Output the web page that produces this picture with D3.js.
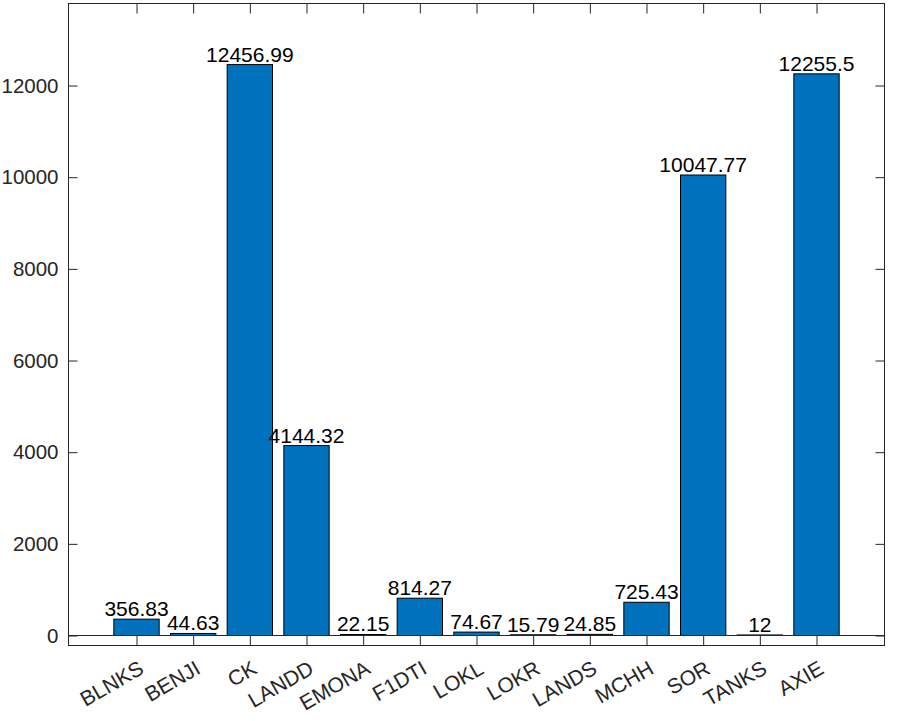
<!DOCTYPE html>
<html><head><meta charset="utf-8">
<script src="https://cdn.jsdelivr.net/npm/d3@7"></script>
<style>body{margin:0;background:#fff}svg{display:block}text{font-family:"Liberation Sans",Arial,sans-serif}</style>
</head><body><svg id="c" width="897" height="721"></svg>
<script>
const categories = ["BLNKS","BENJI","CK","LANDD","EMONA","F1DTI","LOKL","LOKR","LANDS","MCHH","SOR","TANKS","AXIE"];
const values = [356.83,44.63,12456.99,4144.32,22.15,814.27,74.67,15.79,24.85,725.43,10047.77,12,12255.5];
const valueLabels = ["356.83","44.63","12456.99","4144.32","22.15","814.27","74.67","15.79","24.85","725.43","10047.77","12","12255.5"];
const yTicks = [0,2000,4000,6000,8000,10000,12000];

(function(){
const svg = d3.select("#c");
const L=68.5, R=884.5, T=3.5, B=645.5;
const x = d3.scaleLinear().domain([-0.2,14.2]).range([L,R]);
const y = d3.scaleLinear().domain([-218,13790]).range([B,T]);
const axisColor="#262626";
const bw = 0.8;

svg.append("g").selectAll("rect").data(values).join("rect")
  .attr("x",(d,i)=>x(i+1-bw/2)).attr("width",(d,i)=>x(i+1+bw/2)-x(i+1-bw/2))
  .attr("y",d=>y(d)).attr("height",d=>y(0)-y(d))
  .attr("fill","#0072BD").attr("stroke","#000").attr("stroke-width",1);

svg.append("line").attr("x1",L).attr("x2",R).attr("y1",y(0)).attr("y2",y(0))
  .attr("stroke",axisColor).attr("stroke-width",1);

svg.append("g").selectAll("text").data(values).join("text")
  .attr("x",(d,i)=>x(i+1)).attr("y",d=>y(d)-3)
  .attr("text-anchor","middle").attr("font-size",21).attr("fill","#000")
  .text((d,i)=>valueLabels[i]);

const axB = d3.axisBottom(x).tickValues(d3.range(1,14)).tickSize(-10).tickFormat("");
const axT = d3.axisTop(x).tickValues(d3.range(1,14)).tickSize(-10).tickFormat("");
const axL = d3.axisLeft(y).tickValues(yTicks).tickSize(-9).tickPadding(10).tickFormat(d3.format("d"));
const axR = d3.axisRight(y).tickValues(yTicks).tickSize(-9).tickFormat("");
function style(g){g.selectAll("path,line").attr("stroke",axisColor);g.selectAll("text").attr("fill",axisColor).attr("font-size",20.5).attr("font-family","Liberation Sans, Arial, sans-serif");}
svg.append("g").attr("transform",`translate(0,${B})`).call(axB).call(style);
svg.append("g").attr("transform",`translate(0,${T})`).call(axT).call(style);
svg.append("g").attr("transform",`translate(${L},0)`).call(axL).call(style);
svg.append("g").attr("transform",`translate(${R},0)`).call(axR).call(style);
svg.selectAll(".domain").remove();
svg.append("rect").attr("x",L).attr("y",T).attr("width",R-L).attr("height",B-T).attr("fill","none").attr("stroke",axisColor);

svg.append("g").selectAll("text").data(categories).join("text")
  .attr("transform",(d,i)=>`translate(${x(i+1)+1},${B+14}) rotate(-30)`)
  .attr("text-anchor","end").attr("dy","0.72em").attr("font-size",21).attr("fill",axisColor)
  .text(d=>d);
})();
</script></body></html>
